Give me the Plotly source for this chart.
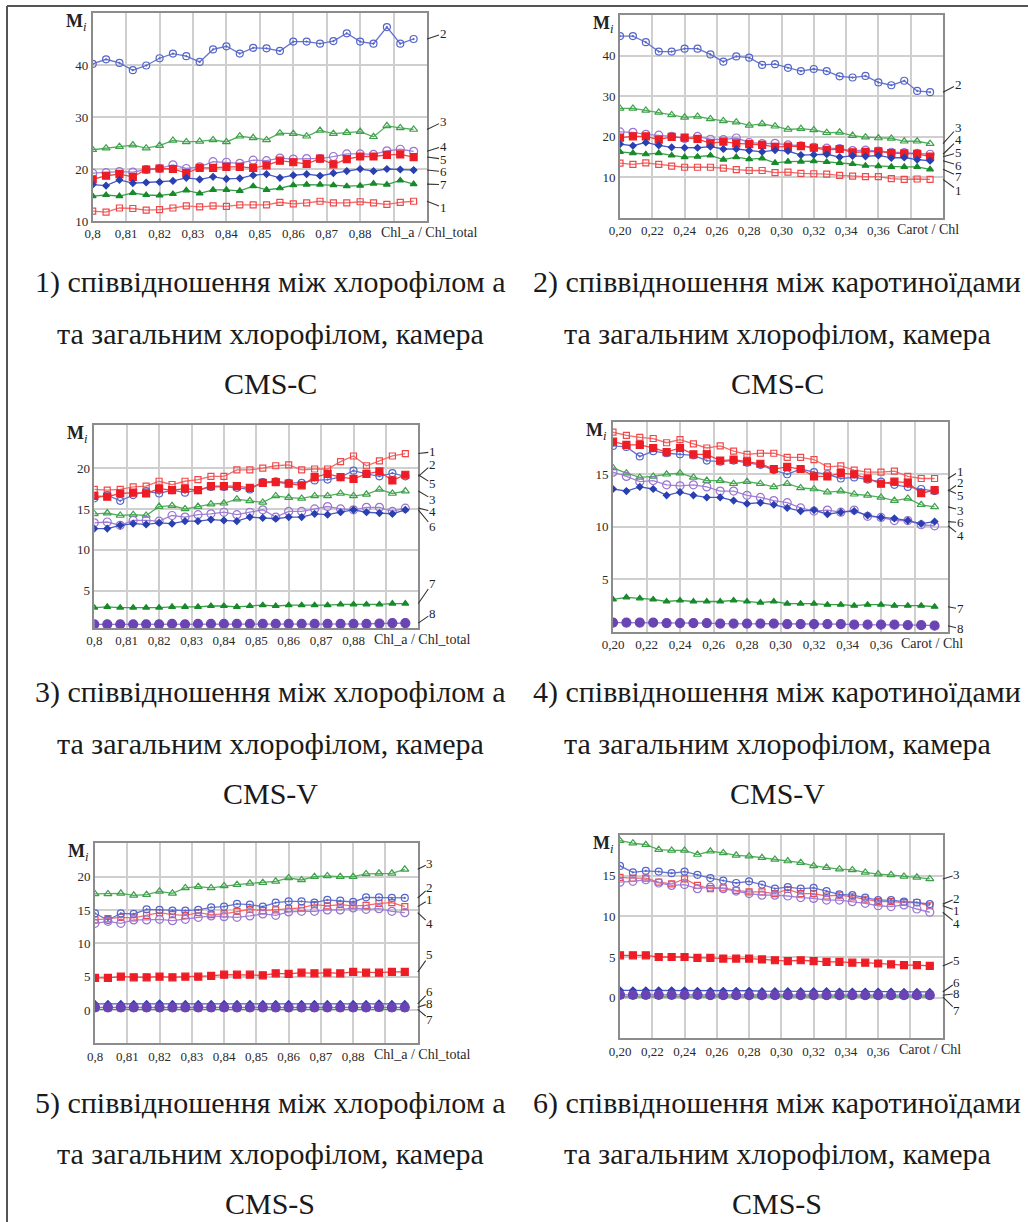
import plotly.graph_objects as go

W, H = 1028, 1222

# ---------------- categories ----------------
x_chl = [0.800, 0.804, 0.808, 0.812, 0.816, 0.820, 0.824, 0.828, 0.832, 0.836, 0.840, 0.844, 0.848,
         0.852, 0.856, 0.860, 0.864, 0.868, 0.872, 0.876, 0.880, 0.884, 0.888, 0.892, 0.896]
x_car = [0.200, 0.208, 0.216, 0.224, 0.232, 0.240, 0.248, 0.256, 0.264, 0.272, 0.280, 0.288, 0.296,
         0.304, 0.312, 0.320, 0.328, 0.336, 0.344, 0.352, 0.360, 0.368, 0.376, 0.384, 0.392]

chl_tickvals = [0.80, 0.81, 0.82, 0.83, 0.84, 0.85, 0.86, 0.87, 0.88, 0.89]
chl_ticktext = ["0,8", "0,81", "0,82", "0,83", "0,84", "0,85", "0,86", "0,87", "0,88", ""]
car_tickvals = [0.20, 0.22, 0.24, 0.26, 0.28, 0.30, 0.32, 0.34, 0.36, 0.38]
car_ticktext = ["0,20", "0,22", "0,24", "0,26", "0,28", "0,30", "0,32", "0,34", "0,36", ""]

# ---------------- panel 1: Chl_a/Chl_total, CMS-C ----------------
p1_s1 = [11.9, 11.7, 12.5, 12.4, 12.1, 12.2, 12.5, 12.9, 12.7, 12.9, 12.8, 13.1, 13.1, 13.1, 13.6, 13.3, 13.5, 13.8, 13.5, 13.5, 13.7, 13.5, 13.2, 13.6, 13.8]
p1_s2 = [40.2, 41.1, 40.4, 39.0, 39.9, 41.3, 42.2, 41.7, 40.6, 43.0, 43.6, 42.2, 43.3, 43.2, 42.7, 44.5, 44.5, 44.1, 44.6, 46.1, 44.5, 44.1, 47.3, 44.1, 45.0]
p1_s3 = [23.7, 24.0, 24.3, 24.6, 24.0, 24.5, 25.5, 25.2, 25.3, 25.6, 25.2, 26.3, 26.0, 25.6, 26.9, 26.8, 26.3, 27.4, 26.8, 27.0, 27.2, 26.2, 28.3, 27.9, 27.6]
p1_s4 = [19.2, 19.3, 19.5, 19.4, 19.9, 20.1, 20.8, 20.1, 20.4, 21.4, 21.3, 21.1, 21.7, 21.6, 22.1, 21.9, 22.0, 22.0, 22.4, 22.9, 22.9, 22.8, 23.5, 23.8, 23.4]
p1_s5 = [18.0, 18.7, 19.0, 18.5, 19.9, 20.1, 20.0, 19.2, 20.2, 20.2, 20.4, 20.4, 20.2, 20.7, 21.6, 21.3, 21.0, 22.0, 20.9, 21.9, 22.4, 22.4, 22.7, 22.8, 22.3]
p1_s6 = [17.0, 16.8, 17.9, 17.3, 17.4, 17.5, 17.7, 18.3, 18.0, 18.5, 18.1, 18.2, 18.8, 19.0, 18.3, 18.8, 19.0, 18.7, 19.2, 19.6, 20.0, 19.6, 20.0, 19.9, 19.8]
p1_s7 = [14.8, 15.0, 14.8, 15.4, 15.0, 14.9, 15.2, 15.9, 15.3, 16.0, 16.0, 15.8, 16.7, 16.0, 16.3, 16.9, 17.0, 17.0, 16.9, 16.7, 16.8, 17.2, 17.0, 17.8, 17.1]

# ---------------- panel 2: Carot/Chl, CMS-C ----------------
p2_s1 = [13.5, 13.2, 13.6, 13.2, 12.8, 12.5, 12.5, 12.5, 12.3, 11.9, 11.7, 11.7, 11.2, 11.3, 11.0, 10.9, 10.8, 10.5, 10.3, 10.2, 10.2, 9.7, 9.5, 9.6, 9.5]
p2_s2 = [44.8, 44.8, 43.3, 41.0, 41.0, 41.7, 41.7, 40.3, 38.5, 39.8, 39.5, 37.7, 37.9, 37.0, 36.2, 36.7, 36.2, 34.9, 34.6, 35.0, 33.4, 32.7, 33.8, 31.3, 31.0]
p2_s3 = [27.0, 27.0, 26.5, 26.0, 25.4, 24.8, 25.0, 24.4, 23.9, 23.6, 22.8, 23.2, 22.6, 21.8, 22.0, 21.7, 21.0, 21.1, 20.3, 19.9, 19.7, 19.6, 18.9, 18.9, 18.3]
p2_s4 = [21.2, 21.1, 20.6, 20.4, 20.1, 19.6, 20.1, 19.4, 19.3, 19.7, 18.6, 18.3, 18.4, 18.0, 17.8, 17.4, 17.2, 17.1, 16.6, 16.7, 16.5, 16.2, 16.1, 15.9, 15.7]
p2_s5 = [19.8, 20.1, 20.1, 19.3, 20.0, 19.8, 19.5, 18.4, 18.8, 18.4, 18.2, 18.0, 17.5, 17.6, 17.7, 17.3, 16.8, 17.0, 16.2, 16.3, 16.4, 16.0, 15.9, 15.8, 15.1]
p2_s6 = [18.2, 17.8, 18.6, 17.9, 17.4, 17.3, 17.3, 17.6, 17.0, 17.0, 16.6, 16.3, 16.7, 16.5, 15.5, 15.6, 15.7, 15.0, 15.3, 15.2, 15.4, 14.8, 14.9, 14.4, 14.1]
p2_s7 = [16.3, 16.0, 15.7, 16.0, 15.4, 15.0, 15.1, 15.4, 14.4, 15.0, 14.5, 14.7, 13.6, 13.9, 13.9, 14.0, 13.8, 13.6, 13.3, 12.9, 12.8, 12.6, 12.6, 12.6, 12.0]

# ---------------- panel 3: Chl_a/Chl_total, CMS-V ----------------
p3_s1 = [17.4, 17.3, 17.4, 17.7, 17.8, 18.4, 18.0, 18.4, 18.6, 19.0, 19.0, 19.8, 19.8, 20.0, 20.3, 20.4, 19.8, 19.9, 19.9, 20.8, 21.5, 20.3, 20.9, 21.5, 21.8]
p3_s2 = [16.3, 16.7, 16.0, 16.7, 17.2, 16.9, 17.3, 17.0, 17.3, 17.7, 17.7, 17.6, 17.4, 18.3, 18.4, 18.2, 18.2, 18.5, 18.6, 18.9, 19.7, 19.3, 19.0, 19.4, 19.0]
p3_s3 = [14.4, 14.5, 14.2, 14.3, 14.2, 15.3, 15.4, 15.0, 15.3, 15.6, 15.7, 16.2, 16.0, 15.8, 16.6, 16.4, 16.3, 16.6, 16.6, 16.9, 16.6, 16.8, 17.4, 16.9, 17.2]
p3_s4 = [13.3, 13.4, 13.0, 13.6, 13.6, 13.5, 14.2, 14.0, 14.3, 14.4, 14.6, 14.3, 14.6, 14.9, 14.0, 14.7, 14.7, 15.0, 15.3, 15.0, 14.9, 15.2, 15.2, 14.7, 15.1]
p3_s5 = [16.6, 16.5, 16.9, 17.0, 16.9, 17.5, 17.3, 17.5, 17.3, 17.8, 17.8, 17.8, 17.6, 18.2, 18.3, 18.1, 17.9, 18.9, 19.3, 18.9, 18.7, 19.3, 19.6, 18.5, 19.2]
p3_s6 = [12.6, 12.6, 13.0, 13.2, 13.1, 13.3, 13.2, 13.5, 13.5, 13.7, 13.6, 13.5, 14.0, 13.9, 13.8, 14.0, 14.0, 14.4, 14.3, 14.6, 14.9, 14.6, 14.5, 14.4, 14.9]
p3_s7 = [2.9, 3.0, 2.9, 2.9, 2.9, 2.9, 3.0, 3.0, 3.0, 3.1, 3.1, 3.0, 3.1, 3.2, 3.1, 3.2, 3.2, 3.2, 3.2, 3.3, 3.3, 3.3, 3.3, 3.4, 3.4]
p3_s8 = [0.85, 0.85, 0.85, 0.85, 0.85, 0.85, 0.9, 0.85, 0.9, 0.9, 0.9, 0.9, 0.9, 0.9, 0.9, 0.9, 0.9, 0.9, 0.9, 0.9, 0.9, 0.9, 0.95, 1.0, 1.0]

# ---------------- panel 4: Carot/Chl, CMS-V ----------------
p4_s1 = [19.0, 18.7, 18.5, 18.4, 18.0, 18.3, 17.9, 17.5, 17.7, 17.2, 16.9, 17.0, 17.0, 16.6, 16.6, 16.4, 15.7, 15.8, 15.4, 15.2, 15.2, 15.3, 14.8, 14.6, 14.6]
p4_s2 = [17.7, 17.6, 16.7, 17.2, 17.0, 16.9, 16.8, 16.3, 16.2, 16.3, 16.1, 15.9, 15.4, 15.0, 15.5, 15.2, 15.0, 14.6, 14.7, 14.5, 14.3, 14.0, 13.8, 13.6, 13.4]
p4_s3 = [15.6, 15.1, 14.7, 14.8, 15.0, 15.1, 14.7, 14.4, 14.4, 14.1, 14.3, 14.1, 13.8, 14.1, 13.7, 13.6, 13.3, 13.4, 13.1, 13.0, 12.8, 12.5, 12.7, 12.1, 11.9]
p4_s4 = [15.2, 14.8, 14.3, 14.4, 14.0, 13.9, 14.0, 13.8, 13.4, 13.4, 13.0, 12.8, 12.5, 12.3, 11.8, 11.5, 11.6, 11.4, 11.6, 11.0, 10.9, 10.6, 10.6, 10.2, 10.1]
p4_s5 = [18.1, 17.8, 17.8, 17.5, 17.1, 17.5, 16.9, 16.9, 16.3, 16.4, 16.2, 16.0, 15.5, 15.7, 15.5, 14.8, 14.8, 15.1, 15.0, 14.6, 14.1, 14.3, 14.2, 13.2, 13.5]
p4_s6 = [13.6, 13.4, 13.8, 13.6, 13.0, 13.3, 13.0, 12.8, 12.8, 12.5, 12.2, 12.3, 12.1, 11.8, 11.5, 11.6, 11.2, 11.4, 11.5, 11.1, 10.9, 10.8, 10.6, 10.3, 10.5]
p4_s7 = [3.1, 3.3, 3.2, 3.1, 2.9, 3.0, 2.9, 2.9, 2.9, 3.0, 2.9, 2.8, 2.9, 2.7, 2.7, 2.7, 2.6, 2.6, 2.5, 2.6, 2.6, 2.5, 2.5, 2.5, 2.4]
p4_s8 = [0.9, 0.9, 0.9, 0.9, 0.85, 0.85, 0.85, 0.85, 0.8, 0.8, 0.8, 0.8, 0.8, 0.75, 0.75, 0.75, 0.75, 0.75, 0.7, 0.7, 0.7, 0.7, 0.65, 0.65, 0.6]

# ---------------- panel 5: Chl_a/Chl_total, CMS-S ----------------
p5_s1 = [13.5, 13.7, 13.9, 13.8, 14.2, 14.6, 14.3, 14.2, 14.6, 14.3, 14.4, 14.8, 15.1, 14.9, 15.0, 15.2, 15.3, 15.8, 15.6, 15.8, 15.6, 15.7, 16.0, 16.1, 15.5]
p5_s2 = [14.5, 13.5, 14.5, 14.4, 15.1, 15.0, 14.9, 14.9, 15.0, 15.4, 15.5, 15.9, 15.8, 15.5, 16.1, 16.3, 16.3, 16.1, 16.5, 16.4, 16.2, 16.9, 16.9, 16.8, 16.8]
p5_s3 = [17.4, 17.4, 17.5, 17.2, 17.3, 17.8, 17.5, 18.3, 18.5, 18.3, 18.6, 18.8, 19.0, 19.1, 19.3, 19.8, 19.5, 20.0, 20.1, 20.0, 20.0, 20.4, 20.5, 20.5, 21.1]
p5_s4 = [13.0, 13.3, 13.0, 13.5, 13.5, 13.6, 13.4, 13.6, 13.9, 14.1, 14.0, 13.9, 14.1, 14.4, 14.2, 14.7, 14.8, 14.8, 15.0, 15.0, 15.3, 15.1, 15.2, 14.8, 14.6]
p5_s5 = [4.8, 4.8, 5.0, 4.9, 4.9, 5.0, 4.9, 5.0, 5.0, 5.1, 5.3, 5.3, 5.3, 5.2, 5.5, 5.4, 5.6, 5.5, 5.6, 5.5, 5.7, 5.6, 5.6, 5.7, 5.7]
p5_s6 = [0.9, 0.9, 0.9, 0.9, 0.9, 1.0, 0.9, 0.9, 0.9, 0.9, 0.9, 0.9, 0.9, 0.9, 0.9, 0.9, 0.9, 0.9, 0.9, 0.9, 0.9, 0.9, 1.0, 0.9, 0.9]
p5_s7 = [0.1, 0.1, 0.1, 0.1, 0.1, 0.1, 0.1, 0.1, 0.1, 0.1, 0.1, 0.1, 0.1, 0.1, 0.1, 0.1, 0.1, 0.1, 0.1, 0.1, 0.1, 0.1, 0.1, 0.1, 0.1]
p5_s8 = [0.4, 0.4, 0.4, 0.4, 0.4, 0.4, 0.4, 0.4, 0.4, 0.4, 0.4, 0.4, 0.4, 0.4, 0.4, 0.4, 0.4, 0.4, 0.4, 0.4, 0.4, 0.4, 0.45, 0.4, 0.4]

# ---------------- panel 6: Carot/Chl, CMS-S ----------------
p6_s1 = [14.8, 14.7, 14.7, 14.2, 14.0, 14.6, 13.8, 13.4, 13.5, 13.2, 13.0, 13.0, 12.8, 13.3, 12.8, 12.8, 12.5, 12.6, 12.4, 12.1, 11.8, 11.8, 11.7, 11.7, 11.3]
p6_s2 = [16.2, 15.4, 15.6, 15.5, 15.3, 15.5, 15.1, 14.7, 14.4, 14.1, 14.3, 13.9, 13.4, 13.6, 13.4, 13.5, 13.1, 12.7, 12.6, 12.3, 12.0, 12.0, 11.8, 11.7, 11.5]
p6_s3 = [19.3, 19.0, 18.8, 18.2, 18.1, 18.1, 17.6, 18.0, 17.8, 17.5, 17.4, 17.2, 17.0, 16.8, 16.6, 16.2, 16.0, 15.8, 15.7, 15.4, 15.2, 15.1, 14.9, 14.8, 14.6]
p6_s4 = [14.2, 14.3, 14.5, 14.1, 13.8, 13.9, 13.4, 13.6, 13.4, 13.1, 12.8, 12.6, 12.6, 12.5, 12.3, 12.2, 12.0, 12.0, 11.8, 11.6, 11.3, 11.2, 11.4, 10.9, 10.5]
p6_s5 = [5.2, 5.2, 5.2, 5.0, 5.0, 5.0, 4.9, 4.9, 4.8, 4.8, 4.8, 4.7, 4.6, 4.5, 4.6, 4.5, 4.4, 4.4, 4.3, 4.3, 4.2, 4.1, 4.0, 4.0, 3.9]
p6_s6 = [0.9, 0.9, 0.9, 0.9, 0.9, 0.9, 0.85, 0.85, 0.85, 0.85, 0.85, 0.8, 0.8, 0.8, 0.8, 0.8, 0.8, 0.75, 0.75, 0.75, 0.75, 0.75, 0.7, 0.7, 0.7]
p6_s7 = [0.1, 0.1, 0.1, 0.1, 0.1, 0.1, 0.1, 0.1, 0.1, 0.1, 0.1, 0.1, 0.1, 0.1, 0.1, 0.1, 0.1, 0.1, 0.1, 0.1, 0.1, 0.1, 0.1, 0.1, 0.1]
p6_s8 = [0.35, 0.35, 0.35, 0.35, 0.35, 0.35, 0.35, 0.3, 0.3, 0.3, 0.3, 0.3, 0.3, 0.3, 0.3, 0.3, 0.3, 0.3, 0.3, 0.3, 0.3, 0.3, 0.3, 0.3, 0.3]

captions_left = ["1) співвідношення між хлорофілом а", "та загальним хлорофілом, камера"]
captions_right = ["2) співвідношення між каротиноїдами", "та загальним хлорофілом, камера"]
cams = ["CMS-C", "CMS-V", "CMS-S"]

# ---------------- styles ----------------
SERIF = "Liberation Serif"
styles = {
    1: dict(line="#f26b6b", mcolor="#f04848", symbol="square-open", size=6),
    2: dict(line="#6674d0", mcolor="#5566c8", symbol="circle-open-dot", size=7),
    3: dict(line="#4fb05a", mcolor="#3ea04a", symbol="triangle-up-open", size=7),
    4: dict(line="#a080d8", mcolor="#9a74d2", symbol="circle-open", size=8),
    5: dict(line="#f04040", mcolor="#ee1c24", symbol="square", size=7),
    6: dict(line="#4658c6", mcolor="#2a3fb0", symbol="diamond", size=5),
    7: dict(line="#36a046", mcolor="#188a2c", symbol="triangle-up", size=6),
    8: dict(line="#9070cc", mcolor="#6a44b4", symbol="circle", size=9),
}

def px_x(p):
    return p / W

def px_y(p):
    return 1 - p / H

panels = [
    dict(x=x_chl, series={1: p1_s1, 2: p1_s2, 3: p1_s3, 4: p1_s4, 5: p1_s5, 6: p1_s6, 7: p1_s7},
         xdom=(92.7, 427), ydom=(13, 221), xr=[0.8, 0.9], yr=[10, 50], yt=[10, 20, 30, 40],
         xtv=chl_tickvals, xtt=chl_ticktext, xlab="Chl_a / Chl_total", xlab_x=0.8857,
         labels={2: 46.0, 3: 29.1, 4: 24.4, 5: 21.9, 6: 19.5, 7: 17.0, 1: 12.6}, lab_dx=16),
    dict(x=x_car, series={1: p2_s1, 2: p2_s2, 3: p2_s3, 4: p2_s4, 5: p2_s5, 6: p2_s6, 7: p2_s7},
         xdom=(620, 943), ydom=(15, 218), xr=[0.2, 0.4], yr=[0, 50], yt=[10, 20, 30, 40],
         xtv=car_tickvals, xtt=car_ticktext, xlab="Carot / Chl", xlab_x=0.3705,
         labels={2: 32.9, 3: 22.4, 4: 19.3, 5: 16.1, 6: 13.0, 7: 10.3, 1: 6.8}, lab_dx=15),
    dict(x=x_chl, series={1: p3_s1, 2: p3_s2, 3: p3_s3, 4: p3_s4, 5: p3_s5, 6: p3_s6, 7: p3_s7, 8: p3_s8},
         xdom=(94.3, 418.3), ydom=(425, 628), xr=[0.8, 0.9], yr=[0.4, 25.3], yt=[5, 10, 15, 20],
         xtv=chl_tickvals, xtt=chl_ticktext, xlab="Chl_a / Chl_total", xlab_x=0.8857,
         labels={1: 22.0, 2: 20.5, 5: 18.1, 3: 16.2, 4: 14.7, 6: 12.8, 7: 5.9, 8: 2.2}, lab_dx=14),
    dict(x=x_car, series={1: p4_s1, 2: p4_s2, 3: p4_s3, 4: p4_s4, 5: p4_s5, 6: p4_s6, 7: p4_s7, 8: p4_s8},
         xdom=(613, 948), ydom=(421.7, 632), xr=[0.2, 0.4], yr=[0, 20], yt=[5, 10, 15],
         xtv=car_tickvals, xtt=car_ticktext, xlab="Carot / Chl", xlab_x=0.3705,
         labels={1: 15.3, 2: 14.2, 5: 13.0, 3: 11.6, 6: 10.4, 4: 9.2, 7: 2.2, 8: 0.3}, lab_dx=12),
    dict(x=x_chl, series={1: p5_s1, 2: p5_s2, 3: p5_s3, 4: p5_s4, 5: p5_s5, 6: p5_s6, 7: p5_s7, 8: p5_s8},
         xdom=(95, 417.7), ydom=(843.3, 1043.3), xr=[0.8, 0.9], yr=[-5, 25], yt=[0, 5, 10, 15, 20],
         xtv=chl_tickvals, xtt=chl_ticktext, xlab="Chl_a / Chl_total", xlab_x=0.8857,
         labels={3: 22.0, 2: 18.4, 1: 16.6, 4: 12.9, 5: 8.25, 6: 2.8, 8: 1.0, 7: -1.4}, lab_dx=12),
    dict(x=x_car, series={1: p6_s1, 2: p6_s2, 3: p6_s3, 4: p6_s4, 5: p6_s5, 6: p6_s6, 7: p6_s7, 8: p6_s8},
         xdom=(620, 942.7), ydom=(835, 1038.3), xr=[0.2, 0.4], yr=[-5, 20], yt=[0, 5, 10, 15],
         xtv=car_tickvals, xtt=car_ticktext, xlab="Carot / Chl", xlab_x=0.3715,
         labels={3: 15.1, 2: 12.2, 1: 10.7, 4: 9.1, 5: 4.6, 6: 1.9, 8: 0.5, 7: -1.6}, lab_dx=14),
]

fig = go.Figure()
layout = dict(
    width=W, height=H, margin=dict(l=0, r=0, t=0, b=0, pad=0, autoexpand=False),
    paper_bgcolor="white", plot_bgcolor="white", showlegend=False,
    font=dict(family=SERIF, color="#222"),
)
annotations = []

for i, p in enumerate(panels, start=1):
    xa = "x" if i == 1 else f"x{i}"
    ya = "y" if i == 1 else f"y{i}"
    xkey = "xaxis" if i == 1 else f"xaxis{i}"
    ykey = "yaxis" if i == 1 else f"yaxis{i}"
    layout[xkey] = dict(
        domain=[px_x(p["xdom"][0]), px_x(p["xdom"][1])], anchor=ya, range=p["xr"],
        tickmode="array", tickvals=p["xtv"], ticktext=p["xtt"], automargin=False,
        showgrid=True, gridcolor="#cfcfcf", gridwidth=1.6, zeroline=False,
        showline=True, mirror=True, linecolor="#8c8c8c", linewidth=1.6, ticks="",
        tickfont=dict(family=SERIF, size=13, color="#2a2a2a"),
    )
    layout[ykey] = dict(
        domain=[px_y(p["ydom"][1]), px_y(p["ydom"][0])], anchor=xa, range=p["yr"],
        tickmode="array", tickvals=p["yt"], ticktext=[str(v) for v in p["yt"]], automargin=False,
        showgrid=True, gridcolor="#cfcfcf", gridwidth=1.6, zeroline=False,
        showline=True, mirror=True, linecolor="#8c8c8c", linewidth=1.6, ticks="",
        tickfont=dict(family=SERIF, size=13, color="#2a2a2a"),
    )
    for n, ys in p["series"].items():
        st = styles[n]
        fig.add_trace(go.Scatter(
            x=p["x"], y=ys, xaxis=xa, yaxis=ya, mode="lines+markers",
            line=dict(color=st["line"], width=1.3),
            marker=dict(symbol=st["symbol"], size=st["size"], color=st["mcolor"],
                        line=dict(color=st["mcolor"], width=1.2)),
            cliponaxis=True, hoverinfo="skip",
        ))
    # series number labels with leader lines
    for n, ly in p["labels"].items():
        ys = p["series"][n]
        annotations.append(dict(
            x=p["xr"][1], y=ys[-1], xref=xa, yref=ya,
            ax=p["lab_dx"], ay=ly, axref="pixel", ayref=ya,
            text=str(n), showarrow=True, arrowhead=0, arrowwidth=1.1, arrowcolor="#333",
            standoff=0, borderpad=0, font=dict(family=SERIF, size=13, color="#222"),
        ))
    # M_i label
    annotations.append(dict(
        x=0, y=1, xref=f"{xa} domain", yref=f"{ya} domain", xanchor="right", yanchor="top",
        xshift=-4, yshift=4, text="<b>M</b><sub><i>i</i></sub>", showarrow=False,
        font=dict(family=SERIF, size=18, color="#222"),
    ))
    # x-axis name after last tick
    annotations.append(dict(
        x=p["xlab_x"], y=0, xref=xa, yref=f"{ya} domain", xanchor="left", yanchor="top",
        yshift=-2, text=p["xlab"], showarrow=False,
        font=dict(family=SERIF, size=14, color="#2a2a2a"),
    ))

# captions
row_y = [(282, 333, 383), (692, 743, 793), (1103, 1153, 1203)]
for r in range(3):
    left = [captions_left[0].replace("1)", f"{2 * r + 1})"), captions_left[1], cams[r]]
    right = [captions_right[0].replace("2)", f"{2 * r + 2})"), captions_right[1], cams[r]]
    for k in range(3):
        annotations.append(dict(x=px_x(270), y=px_y(row_y[r][k]), xref="paper", yref="paper",
                                xanchor="center", yanchor="middle", text=left[k], showarrow=False,
                                font=dict(family=SERIF, size=30, color="#1a1a1a")))
        annotations.append(dict(x=px_x(777), y=px_y(row_y[r][k]), xref="paper", yref="paper",
                                xanchor="center", yanchor="middle", text=right[k], showarrow=False,
                                font=dict(family=SERIF, size=30, color="#1a1a1a")))

layout["annotations"] = annotations
layout["shapes"] = [
    dict(type="line", xref="paper", yref="paper", x0=px_x(7), x1=1, y0=px_y(6), y1=px_y(6),
         line=dict(color="#555", width=2)),
    dict(type="line", xref="paper", yref="paper", x0=px_x(7), x1=px_x(7), y0=px_y(6), y1=0,
         line=dict(color="#555", width=2)),
]
fig.update_layout(**layout)
fig.write_html(
    "out.html",
    config={"displayModeBar": False},
    post_script="document.body.style.margin='0';document.body.style.overflow='hidden';"
                "document.documentElement.style.overflow='hidden';",
)
